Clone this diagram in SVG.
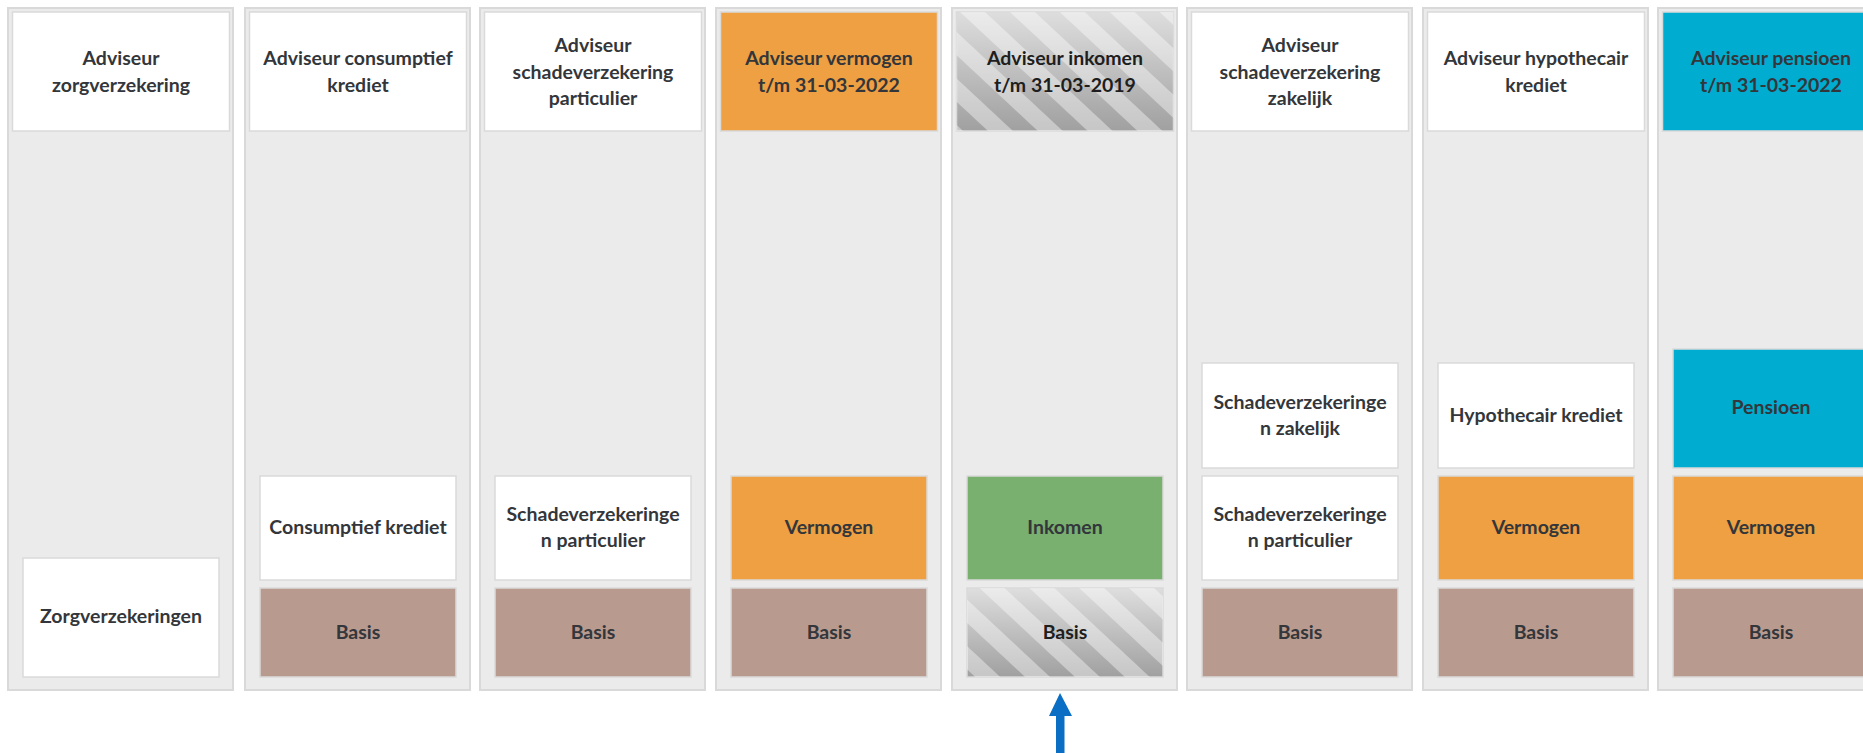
<svg xmlns="http://www.w3.org/2000/svg" width="1863" height="753" viewBox="0 0 1863 753">
<defs>
<style>
.col{fill:#ebebeb;stroke:#d9d9d9;stroke-width:2}
.box{stroke:#dadada;stroke-width:1.5}
.w{fill:#ffffff}
.o{fill:#eea042}
.t{fill:#00acd0}
.g{fill:#79af6f}
.b{fill:#b99a8f}
.h{fill:url(#hg)}
.tx{font-family:Lato,"Open Sans","Liberation Sans",sans-serif;font-weight:bold;font-size:19.5px;fill:#33363a;text-anchor:middle}
.dk{fill:#1e1e1e}
</style>
<linearGradient id="hg" x1="0" y1="0" x2="0" y2="1">
<stop offset="0" stop-color="#dedede"/>
<stop offset="1" stop-color="#a0a0a0"/>
</linearGradient>
<pattern id="st" width="34" height="34" patternUnits="userSpaceOnUse" patternTransform="rotate(-47)">
<rect x="0" y="0" width="17" height="34" fill="#ffffff" fill-opacity="0.4"/>
</pattern>
</defs>

<g id="col1">
<rect class="col" x="8" y="8" width="225" height="682"/>
<rect class="box w" x="12.5" y="12" width="217" height="119"/>
<text class="tx" x="121" y="65">Adviseur</text>
<text class="tx" x="121" y="92">zorgverzekering</text>
<rect class="box w" x="23" y="558" width="196" height="119"/>
<text class="tx" x="121" y="623">Zorgverzekeringen</text>
</g>

<g id="col2">
<rect class="col" x="245" y="8" width="225" height="682"/>
<rect class="box w" x="249.5" y="12" width="217" height="119"/>
<text class="tx" x="358" y="65">Adviseur consumptief</text>
<text class="tx" x="358" y="92">krediet</text>
<rect class="box w" x="260" y="476" width="196" height="104"/>
<text class="tx" x="358" y="534">Consumptief krediet</text>
<rect class="box b" x="260" y="588" width="196" height="89"/>
<text class="tx" x="358" y="639">Basis</text>
</g>

<g id="col3">
<rect class="col" x="480" y="8" width="225" height="682"/>
<rect class="box w" x="484.5" y="12" width="217" height="119"/>
<text class="tx" x="593" y="52">Adviseur</text>
<text class="tx" x="593" y="79">schadeverzekering</text>
<text class="tx" x="593" y="105">particulier</text>
<rect class="box w" x="495" y="476" width="196" height="104"/>
<text class="tx" x="593" y="521">Schadeverzekeringe</text>
<text class="tx" x="593" y="547">n particulier</text>
<rect class="box b" x="495" y="588" width="196" height="89"/>
<text class="tx" x="593" y="639">Basis</text>
</g>

<g id="col4">
<rect class="col" x="716" y="8" width="225" height="682"/>
<rect class="box o" x="720.5" y="12" width="217" height="119"/>
<text class="tx" x="829" y="65">Adviseur vermogen</text>
<text class="tx" x="829" y="92">t/m 31-03-2022</text>
<rect class="box o" x="731" y="476" width="196" height="104"/>
<text class="tx" x="829" y="534">Vermogen</text>
<rect class="box b" x="731" y="588" width="196" height="89"/>
<text class="tx" x="829" y="639">Basis</text>
</g>

<g id="col5">
<rect class="col" x="952" y="8" width="225" height="682"/>
<rect class="box h" x="956.5" y="12" width="217" height="119"/>
<rect x="956.5" y="12" width="217" height="119" fill="url(#st)"/>
<text class="tx dk" x="1065" y="65">Adviseur inkomen</text>
<text class="tx dk" x="1065" y="92">t/m 31-03-2019</text>
<rect class="box g" x="967" y="476" width="196" height="104"/>
<text class="tx" x="1065" y="534">Inkomen</text>
<rect class="box h" x="967" y="588" width="196" height="89"/>
<rect x="967" y="588" width="196" height="89" fill="url(#st)"/>
<text class="tx dk" x="1065" y="639">Basis</text>
</g>

<g id="col6">
<rect class="col" x="1187" y="8" width="225" height="682"/>
<rect class="box w" x="1191.5" y="12" width="217" height="119"/>
<text class="tx" x="1300" y="52">Adviseur</text>
<text class="tx" x="1300" y="79">schadeverzekering</text>
<text class="tx" x="1300" y="105">zakelijk</text>
<rect class="box w" x="1202" y="363" width="196" height="105"/>
<text class="tx" x="1300" y="409">Schadeverzekeringe</text>
<text class="tx" x="1300" y="435">n zakelijk</text>
<rect class="box w" x="1202" y="476" width="196" height="104"/>
<text class="tx" x="1300" y="521">Schadeverzekeringe</text>
<text class="tx" x="1300" y="547">n particulier</text>
<rect class="box b" x="1202" y="588" width="196" height="89"/>
<text class="tx" x="1300" y="639">Basis</text>
</g>

<g id="col7">
<rect class="col" x="1423" y="8" width="225" height="682"/>
<rect class="box w" x="1427.5" y="12" width="217" height="119"/>
<text class="tx" x="1536" y="65">Adviseur hypothecair</text>
<text class="tx" x="1536" y="92">krediet</text>
<rect class="box w" x="1438" y="363" width="196" height="105"/>
<text class="tx" x="1536" y="422">Hypothecair krediet</text>
<rect class="box o" x="1438" y="476" width="196" height="104"/>
<text class="tx" x="1536" y="534">Vermogen</text>
<rect class="box b" x="1438" y="588" width="196" height="89"/>
<text class="tx" x="1536" y="639">Basis</text>
</g>

<g id="col8">
<rect class="col" x="1658" y="8" width="225" height="682"/>
<rect class="box t" x="1662.5" y="12" width="217" height="119"/>
<text class="tx" x="1771" y="65">Adviseur pensioen</text>
<text class="tx" x="1771" y="92">t/m 31-03-2022</text>
<rect class="box t" x="1673" y="349" width="196" height="119"/>
<text class="tx" x="1771" y="414">Pensioen</text>
<rect class="box o" x="1673" y="476" width="196" height="104"/>
<text class="tx" x="1771" y="534">Vermogen</text>
<rect class="box b" x="1673" y="588" width="196" height="89"/>
<text class="tx" x="1771" y="639">Basis</text>
</g>

<g id="connectors">
<polygon points="1060,693 1072,716 1064.5,716 1064.5,753 1056,753 1056,716 1049,716" fill="#0a6fc4"/>
</g>
</svg>
